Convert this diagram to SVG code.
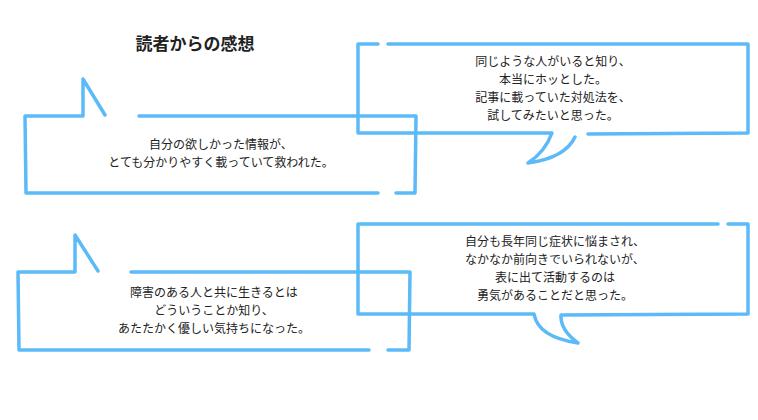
<svg xmlns="http://www.w3.org/2000/svg" width="758" height="420" viewBox="0 0 758 420">
<style>
.b{fill:none;stroke:#5bbaf7;stroke-width:3.5;stroke-linecap:round;stroke-linejoin:round}
text{font-family:"Noto Sans CJK JP",sans-serif;font-size:12px;fill:#222;text-anchor:middle}
.t{font-size:17px;font-weight:bold}
</style>
<rect width="758" height="420" fill="#fff"/>
<text class="t" x="195" y="50">読者からの感想</text>
<g id="bubble1">
<path class="b" d="M105,115 L83,79 L83,116 L25,116 L26,193 L378,193 M396,193 L415,193 L416,116 L139,116"/>
<text x="221" y="149">自分の欲しかった情報が、</text>
<text x="221" y="167">とても分かりやすく載っていて救われた。</text>
</g>
<g id="bubble2">
<path class="b" d="M378,44 L358,44 L358,133 L552,133 Q545,152 528,163 Q565,158 575,137 M588,134 L748,133 L748,44 L388,44"/>
<text x="553" y="66">同じような人がいると知り、</text>
<text x="553" y="84">本当にホッとした。</text>
<text x="553" y="102">記事に載っていた対処法を、</text>
<text x="553" y="120">試してみたいと思った。</text>
</g>
<g id="bubble3">
<path class="b" d="M98,271 L75,235 L75,272 L18,272 L19,350 L369,350 M388,350 L409,350 L410,272 L131,272"/>
<text x="214" y="297">障害のある人と共に生きるとは</text>
<text x="214" y="315">どういうことか知り、</text>
<text x="214" y="333">あたたかく優しい気持ちになった。</text>
</g>
<g id="bubble4">
<path class="b" d="M718,224 L358,224 L358,314 L534,314 Q538,337 578,343 Q560,330 561,315 L748,314 L748,224 L728,224"/>
<text x="555" y="246">自分も長年同じ症状に悩まされ、</text>
<text x="555" y="264">なかなか前向きでいられないが、</text>
<text x="555" y="282">表に出て活動するのは</text>
<text x="555" y="300">勇気があることだと思った。</text>
</g>
<g id="connectors"></g>
</svg>
